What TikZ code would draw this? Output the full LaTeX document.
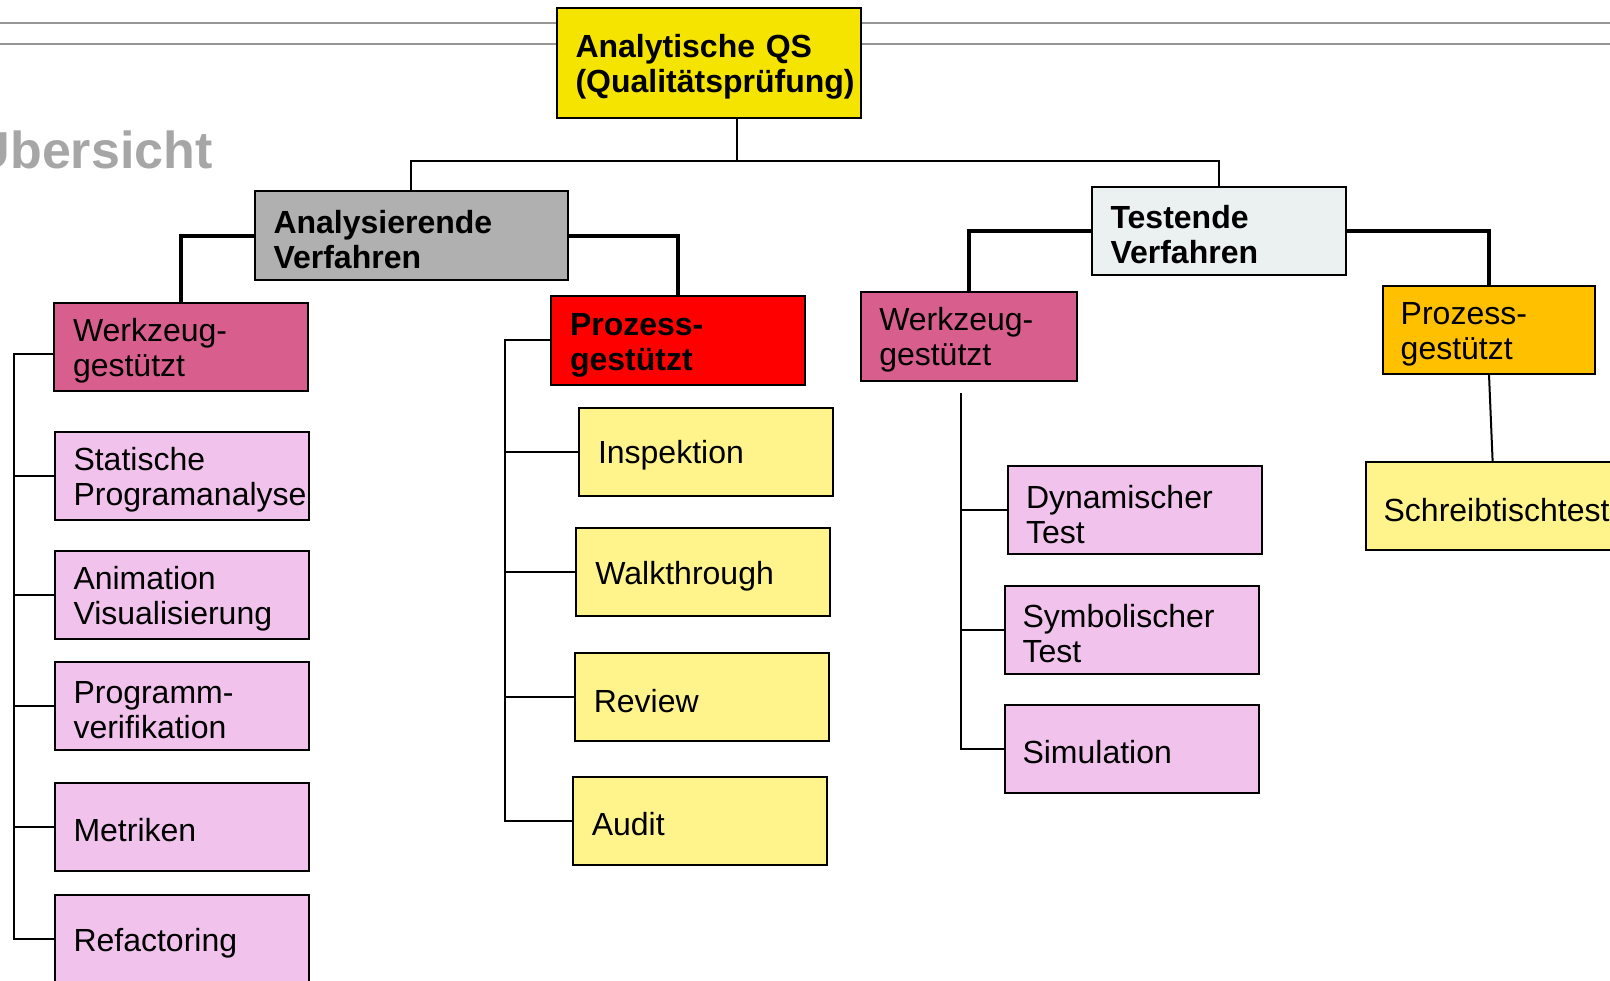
\documentclass[tikz,border=0pt]{standalone}
\usepackage{fontspec}
\setmainfont{Liberation Sans}
\usetikzlibrary{calc}
\definecolor{qsyellow}{RGB}{245,228,0}
\definecolor{anagray}{RGB}{176,176,176}
\definecolor{tesgray}{RGB}{234,241,240}
\definecolor{toolpink}{RGB}{216,94,141}
\definecolor{procred}{RGB}{255,0,0}
\definecolor{procorange}{RGB}{255,192,0}
\definecolor{lightpink}{RGB}{240,194,236}
\definecolor{lightyellow}{RGB}{255,244,140}
\definecolor{headgray}{RGB}{166,166,166}
\definecolor{rulegray}{RGB}{150,150,150}
\begin{document}
\begin{tikzpicture}[x=0.5pt, y=-0.5pt]
    \tikzstyle{box}=[draw, line width=1pt, align=left, inner xsep=9.5pt, inner ysep=0pt, text width=108pt, minimum height=44pt, font=\fontsize{16pt}{17.5pt}\selectfont, execute at begin node={\rule{0pt}{15.5pt}}]
    \tikzstyle{bold box}=[box, font=\bfseries\fontsize{16pt}{17.5pt}\selectfont]
    \tikzstyle{link}=[line width=1pt]
    \tikzstyle{thick link}=[line width=1.8pt]
    \useasboundingbox (0,0) rectangle (1610,980);

    % header rules and title
    \draw [rulegray, line width=1pt] (0,22.6) -- (1610,22.6);
    \draw [rulegray, line width=1pt] (0,44.2) -- (1610,44.2);
    \node [anchor=base east, inner sep=0pt, text=headgray, font=\bfseries\fontsize{26pt}{30pt}\selectfont] (title) at (213,168) {Übersicht};

    % draw top levels
    \node [bold box, fill=qsyellow, text width=133pt, minimum height=55pt] (qs) at (708.5,63) {Analytische QS\\(Qualitätsprüfung)};
    \node [bold box, fill=anagray, text width=137.5pt, minimum height=44.5pt] (ana) at (411,235.7) {Analysierende\\Verfahren};
    \node [bold box, fill=tesgray, text width=108.3pt] (tes) at (1218.8,231) {Testende\\Verfahren};

    \node [box, fill=toolpink] (wl) at (181,347) {Werkzeug-\\gestützt};
    \node [bold box, fill=procred, minimum height=44.5pt] (pr) at (678,340.4) {Prozess-\\gestützt};
    \node [box, fill=toolpink, inner xsep=9pt, text width=89.75pt, minimum height=44.7pt] (wr) at (969,336.3) {Werkzeug-\\gestützt};
    \node [box, fill=procorange, inner xsep=9pt, text width=88.3pt] (po) at (1489,329.6) {Prozess-\\gestützt};

    % draw leaves
    \foreach \m/\l/\y in {stat/{Statische\\Programanalyse}/476.3, anim/{Animation\\Visualisierung}/595, verif/{Programm-\\verifikation}/705.8, metr/Metriken/826.5, refac/Refactoring/939.4}
    \node [box, fill=lightpink] (\m) at (181.5,\y) {\l};

    \foreach \m/\l/\x/\y in {insp/Inspektion/706/451.8, walk/Walkthrough/703.4/572, rev/Review/701.8/697, audit/Audit/699.8/820.5}
    \node [box, fill=lightyellow] (\m) at (\x,\y) {\l};

    \foreach \m/\l/\x/\y in {dyn/{Dynamischer\\Test}/1135/510.3, sym/{Symbolischer\\Test}/1131.5/629.5, sim/Simulation/1131.5/748.5}
    \node [box, fill=lightpink, inner xsep=9pt, text width=109pt] (\m) at (\x,\y) {\l};

    \node [box, fill=lightyellow, inner xsep=9pt, text width=109pt] (schreib) at (1492.6,506.2) {Schreibtischtest};

    % draw lines
    \coordinate (top) at ($(qs.south)+(28.5,42)$);
    \draw [link] ($(qs.south)+(28.5,0)$) -- (top);
    \draw [link] (ana.north) |- (top) -| (tes.north);

    \draw [thick link] (ana.west) -| (wl.north);
    \draw [thick link] (ana.east) -| (pr.north);
    \draw [thick link] (tes.west) -| (wr.north);
    \draw [thick link] (tes.east) -| (po.north);

    \coordinate (lbus) at (14.4,0);
    \draw [link] ($(wl.west)+(0,7)$) -- ($(wl.west -| lbus)+(0,7)$) -- (refac.west -| lbus) -- (refac.west);
    \foreach \m in {stat,anim,verif,metr}
    \draw [link] (\m.west -| lbus) -- (\m.west);

    \coordinate (mbus) at (505,0);
    \draw [link] (pr.west) -- (pr.west -| mbus) -- (audit.west -| mbus) -- (audit.west);
    \foreach \m in {insp,walk,rev}
    \draw [link] (\m.west -| mbus) -- (\m.west);

    \coordinate (rbus) at (961,0);
    \coordinate (rtop) at ($(wr.south -| rbus)+(0,11)$);
    \draw [link] (rtop) -- (sim.west -| rbus) -- (sim.west);
    \foreach \m in {dyn,sym}
    \draw [link] (\m.west -| rbus) -- (\m.west);

    \draw [link] (po.south) -- (schreib.north);
  \end{tikzpicture}
\end{document}
